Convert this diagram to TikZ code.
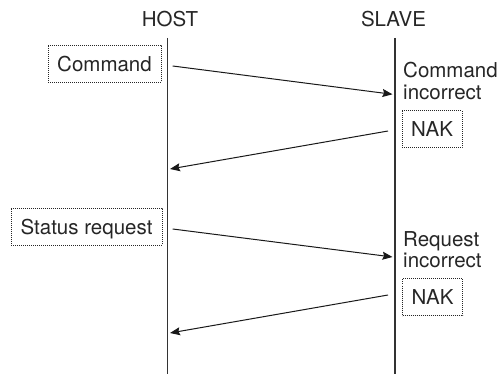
\documentclass[tikz,border=0pt]{standalone}
\usepackage{fontspec}
\setmainfont{TeX Gyre Heros}
\usetikzlibrary{arrows.meta}
\begin{document}
\begin{tikzpicture}[x=1pt,y=-1pt,
  every node/.style={font=\fontsize{20.5}{21.5}\selectfont, text=black!85},
  lifeline/.style={line width=1.3pt, draw=black!80},
  msg/.style={line width=1pt, draw=black!90, -{Stealth[length=10pt,width=8pt,inset=1.5pt]}},
  dotbox/.style={draw=black!85, line width=0.8pt, dash pattern=on 0.9pt off 1.1pt, text height=15pt, text depth=0pt, inner sep=0pt, minimum height=37pt},
  lbl/.style={align=left, anchor=north west, inner sep=0pt}]
\useasboundingbox (0,0) rectangle (503,374);
% headers
\node[anchor=base] (host) at (170,27) {HOST};
\node[anchor=base] (slave) at (393.5,27) {SLAVE};
% lifelines
\coordinate (ht) at (167.7,38); \coordinate (hb) at (167.7,374);
\coordinate (st) at (395,38); \coordinate (sb) at (395,374);
\draw[lifeline] (ht) -- (hb);
\draw[lifeline] (st) -- (sb);
% boxes
\node[dotbox, minimum width=113pt] (cmd) at (104.5,63.8) {Command};
\node[dotbox, minimum width=151pt] (stat) at (86.5,226.5) {Status request};
\node[dotbox, minimum width=60pt] (nak1) at (432,129) {NAK};
\node[dotbox, minimum width=60pt] (nak2) at (432.5,297) {NAK};
% labels
\node[lbl] (lbl1) at (403,62) {Command\\incorrect};
\node[lbl] (lbl2) at (403,231) {Request\\incorrect};
% message end points
\coordinate (a1s) at (172.7,66);  \coordinate (a1e) at (392.5,94.3);
\coordinate (a2s) at (388,131);   \coordinate (a2e) at (170,169);
\coordinate (a3s) at (172.7,229); \coordinate (a3e) at (392.5,257);
\coordinate (a4s) at (388,295);   \coordinate (a4e) at (170,333);
\draw[msg] (a1s) -- (a1e);
\draw[msg] (a2s) -- (a2e);
\draw[msg] (a3s) -- (a3e);
\draw[msg] (a4s) -- (a4e);
\end{tikzpicture}
\end{document}
